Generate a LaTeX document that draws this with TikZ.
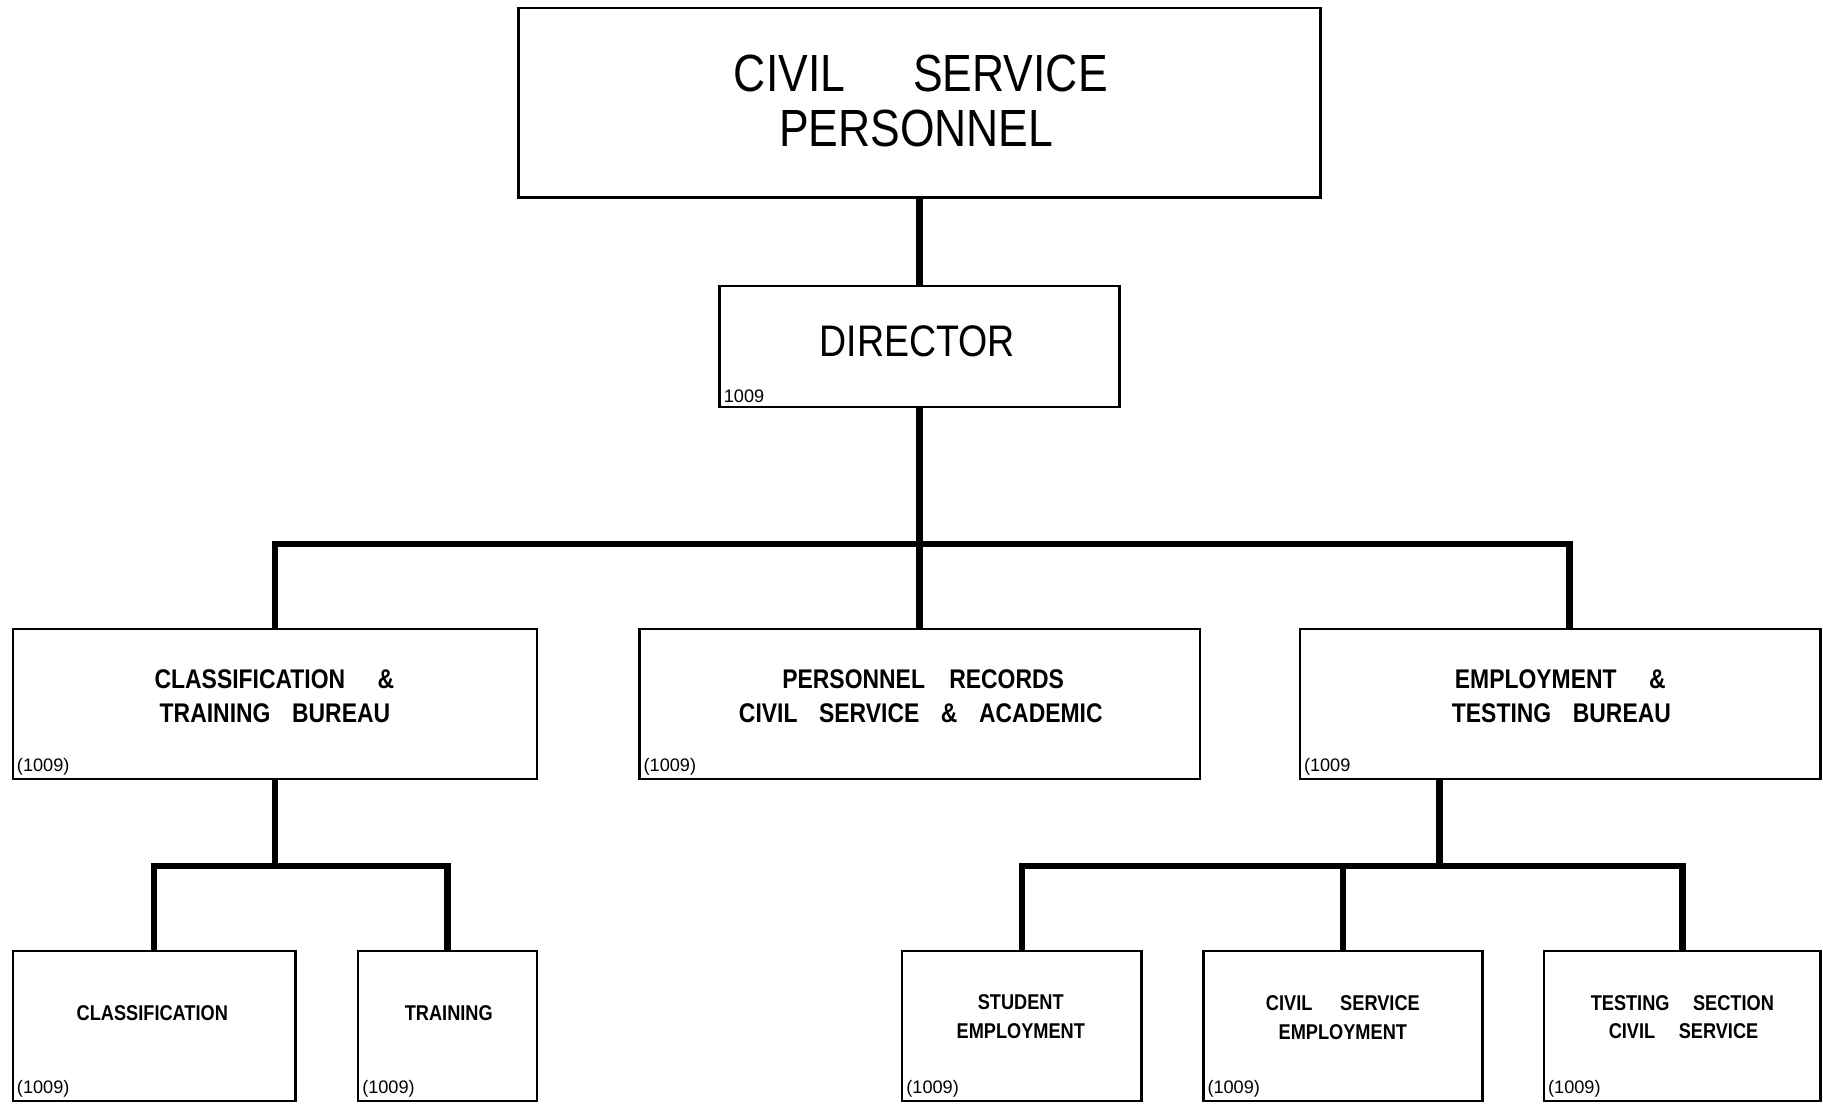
\documentclass[tikz,border=0pt]{standalone}
\usepackage{fontspec}
\newfontfamily\lr[FakeStretch=0.85]{Liberation Sans}
\newfontfamily\lrn{Liberation Sans}
\begin{document}
\begin{tikzpicture}[x=0.5pt,y=-0.5pt,
  box/.style={draw=black,line width=1.1pt,rectangle,inner sep=0pt,outer sep=0pt,fill=white},
  conn/.style={line width=2.8pt,line join=miter,line cap=butt},
  ttop/.style={anchor=base,inner sep=0pt,font=\lr\fontsize{22.5}{24}\selectfont},
  tdir/.style={anchor=base,inner sep=0pt,font=\lr\fontsize{19}{21}\selectfont},
  tmid/.style={anchor=base,inner sep=0pt,font=\lr\bfseries\fontsize{11.6}{13}\selectfont},
  tlow/.style={anchor=base,inner sep=0pt,font=\lr\bfseries\fontsize{9.2}{11}\selectfont},
  code/.style={anchor=south west,inner sep=0pt,xshift=1.6pt,yshift=1.6pt,font=\lrn\fontsize{7.8}{9}\selectfont}
]
\useasboundingbox[fill=white] (0,0) rectangle (1568,949);

% boxes
\node[box,minimum width=345pt,minimum height=81.5pt] (top) at (791,88.5) {};
\node[box,minimum width=172pt,minimum height=52pt] (dir) at (791,298) {};
\node[box,minimum width=225.5pt,minimum height=64.5pt] (l2l) at (236.5,605.5) {};
\node[box,minimum width=241pt,minimum height=64.5pt] (l2m) at (791,605.5) {};
\node[box,minimum width=224pt,minimum height=64.5pt] (l2r) at (1342,605.5) {};
\node[box,minimum width=121.5pt,minimum height=64.5pt] (cls) at (132.5,882.5) {};
\node[box,minimum width=77pt,minimum height=64.5pt] (trn) at (385,882.5) {};
\node[box,minimum width=103pt,minimum height=64.5pt] (stu) at (879,882.5) {};
\node[box,minimum width=120pt,minimum height=64.5pt] (cse) at (1155,882.5) {};
\node[box,minimum width=119pt,minimum height=64.5pt] (tst) at (1447,882.5) {};

% connector junctions
\coordinate (bar) at (791,468);
\coordinate (lbar) at (236.5,745);
\coordinate (rbar) at (1238,745);
\coordinate (rdrop) at (1350,541);

\draw[conn] (top.south) -- (top.south |- dir.north);
\draw[conn] (dir.south) -- (bar);
\draw[conn] (l2l.north) |- (bar) -| (rdrop);
\draw[conn] (bar) -- (bar |- l2m.north);
\draw[conn] (l2l.south) -- (lbar);
\draw[conn] (cls.north) |- (lbar) -| (trn.north);
\draw[conn] (rbar |- l2r.south) -- (rbar);
\draw[conn] (stu.north) |- (rbar) -| (tst.north);
\draw[conn] (cse.north) -- (cse.north |- rbar);

% texts
\node[ttop] (t1a) at (792,79) {CIVIL\hspace{1.3em}SERVICE};
\node[ttop] (t1b) at (788,126) {PERSONNEL};
\node[tdir] (t2a) at (789,307) {DIRECTOR};

\node[tmid] (t3a) at (236,592) {CLASSIFICATION\hspace{1.2em}\&};
\node[tmid] (t3b) at (236.5,621) {TRAINING\hspace{0.8em}BUREAU};
\node[tmid] (t4a) at (794,592) {PERSONNEL\hspace{0.9em}RECORDS};
\node[tmid] (t4b) at (792,621) {CIVIL\hspace{0.8em}SERVICE\hspace{0.8em}\&\hspace{0.8em}ACADEMIC};
\node[tmid] (t5a) at (1342,592) {EMPLOYMENT\hspace{1.2em}\&};
\node[tmid] (t5b) at (1343,621) {TESTING\hspace{0.8em}BUREAU};

\node[tlow] (t6a) at (131,878) {CLASSIFICATION};
\node[tlow] (t7a) at (386,878) {TRAINING};
\node[tlow] (t8a) at (878,868) {STUDENT};
\node[tlow] (t8b) at (878,893) {EMPLOYMENT};
\node[tlow] (t9a) at (1155,869) {CIVIL\hspace{1.3em}SERVICE};
\node[tlow] (t9b) at (1155,894) {EMPLOYMENT};
\node[tlow] (t10a) at (1447,869) {TESTING\hspace{1.1em}SECTION};
\node[tlow] (t10b) at (1448,893) {CIVIL\hspace{1.1em}SERVICE};

% codes
\node[code] (c1) at (dir.south west) {1009};
\node[code] (c2) at (l2l.south west) {(1009)};
\node[code] (c3) at (l2m.south west) {(1009)};
\node[code] (c4) at (l2r.south west) {(1009};
\node[code] (c5) at (cls.south west) {(1009)};
\node[code] (c6) at (trn.south west) {(1009)};
\node[code] (c7) at (stu.south west) {(1009)};
\node[code] (c8) at (cse.south west) {(1009)};
\node[code] (c9) at (tst.south west) {(1009)};
\end{tikzpicture}
\end{document}
